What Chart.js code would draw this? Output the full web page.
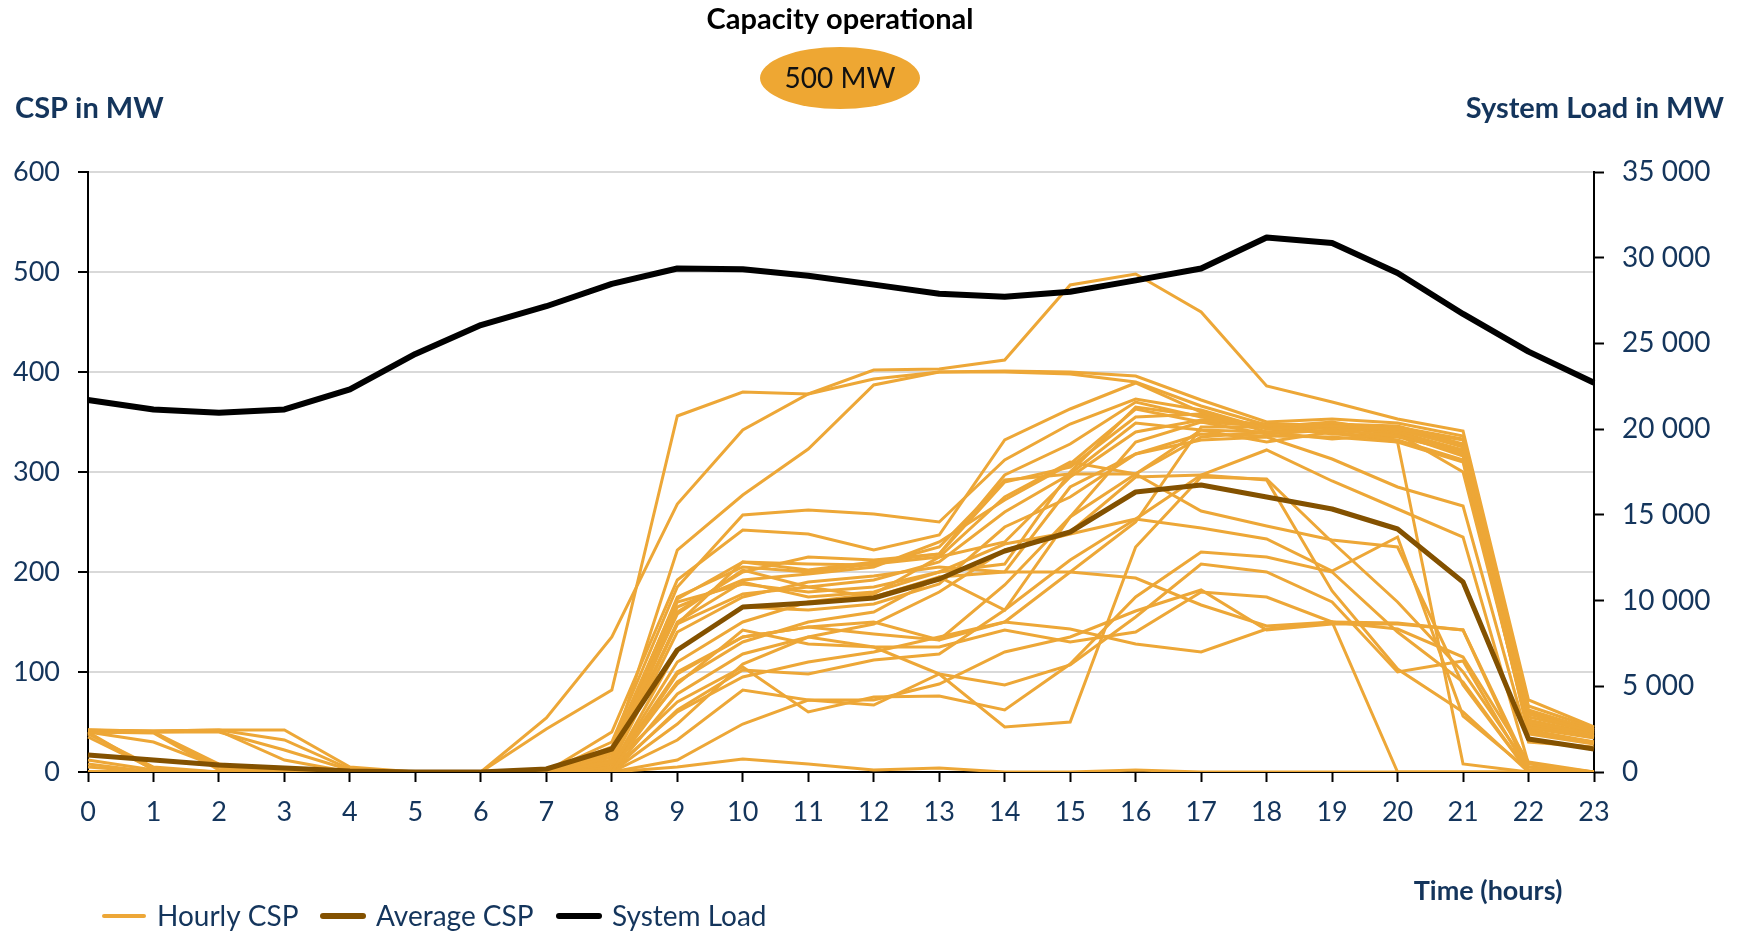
<!DOCTYPE html>
<html>
<head>
<meta charset="utf-8">
<title>CSP output and system load</title>
<script src="https://cdn.jsdelivr.net/npm/chart.js@4.4.1/dist/chart.umd.min.js"></script>
<style>
  html, body { margin: 0; padding: 0; background: #ffffff; overflow: hidden; }
  #wrap { width: 1738px; height: 933px; position: relative; }
</style>
</head>
<body>
<div id="wrap"><canvas id="chart" width="1738" height="933"></canvas></div>
<script>
// Hours of the day (x axis categories)
const hours = ['0','1','2','3','4','5','6','7','8','9','10','11','12','13','14','15','16','17','18','19','20','21','22','23'];

// System load in MW (right axis)
const systemLoad = [21700, 21150, 20960, 21150, 22320, 24390, 26070, 27170, 28470, 29370, 29330, 28950,
                    28430, 27900, 27720, 28010, 28680, 29370, 31180, 30860, 29110, 26720, 24520, 22710];

// Average CSP output in MW (left axis)
const averageCsp = [17, 12, 7, 4, 1, 0, 0, 3, 23, 122, 165, 169, 174, 193, 221, 240, 280, 287, 275, 263, 243, 190, 33, 23];

// Hourly CSP output in MW, one profile per day (left axis)
const dailyCsp = [
  [42,41,42,42,5,0,0,43,82,356,380,378,402,403,412,487,498,460,386,370,353,341,72,45],
  [42,41,42,32,3,0,0,54,135,268,342,378,393,400,401,400,396,372,350,353,349,336,66,44],
  [40,40,40,22,2,0,0,0,20,222,277,323,387,400,400,398,390,366,347,346,343,332,62,42],
  [41,40,41,12,0,0,0,0,30,185,257,262,258,250,312,348,373,362,343,346,342,326,58,40],
  [40,40,8,0,0,0,0,0,40,192,242,238,222,237,332,363,389,360,340,341,345,333,55,40],
  [42,40,5,0,0,0,0,0,25,173,210,202,210,218,297,328,370,355,345,350,340,318,50,38],
  [40,39,2,0,0,0,0,0,15,165,192,198,205,230,272,308,363,350,338,342,336,320,48,36],
  [38,5,0,0,0,0,0,0,10,148,178,185,192,210,260,298,349,342,340,333,338,300,45,35],
  [40,2,0,0,0,0,0,0,0,98,135,145,138,132,187,255,298,342,330,340,332,312,44,34],
  [0,0,0,0,0,0,0,0,20,175,205,200,208,215,230,295,340,352,348,347,344,325,52,38],
  [0,0,0,0,0,0,0,0,12,160,200,215,212,218,290,305,355,358,345,344,340,322,46,35],
  [0,0,0,0,0,0,0,0,8,140,175,190,196,205,200,285,318,338,336,335,330,310,40,30],
  [12,2,0,0,0,0,0,0,18,170,188,180,185,200,208,300,365,356,344,348,346,328,60,42],
  [8,0,0,0,0,0,0,0,5,110,150,170,178,215,275,310,298,335,340,345,338,316,38,28],
  [5,0,0,0,0,0,0,0,3,90,130,150,160,195,162,255,330,350,346,338,335,320,42,30],
  [35,3,0,0,0,0,0,0,5,122,165,162,168,188,245,275,318,332,335,313,285,266,30,25],
  [40,30,5,0,0,0,0,0,0,78,118,135,148,180,222,238,253,297,322,291,263,235,8,0],
  [0,0,0,0,0,0,0,0,10,150,190,175,180,200,228,240,295,297,292,181,103,60,0,0],
  [0,0,0,0,0,0,0,0,15,148,210,208,207,225,292,298,298,261,246,232,225,87,0,0],
  [0,0,0,0,0,0,0,0,20,158,202,185,175,195,200,200,194,167,146,150,149,142,5,0],
  [0,0,0,0,0,0,0,0,0,62,102,98,112,118,162,212,253,244,233,201,235,56,2,0],
  [0,0,0,0,0,0,0,0,0,32,82,72,72,88,120,135,161,182,142,148,148,142,0,0],
  [0,0,0,0,0,0,0,0,10,88,142,128,125,98,87,107,155,208,200,170,100,111,0,0],
  [0,0,0,0,0,0,0,0,5,100,135,145,150,132,150,143,128,120,143,150,143,115,10,0],
  [0,0,0,0,0,0,0,0,0,12,48,72,67,98,45,50,225,295,293,230,170,100,5,0],
  [0,0,0,0,0,0,0,0,8,70,105,60,75,76,62,108,175,220,215,200,140,90,0,0],
  [0,0,0,0,0,0,0,0,0,48,108,135,125,125,142,130,140,180,175,150,0,0,0,0],
  [0,0,0,0,0,0,0,0,2,60,95,110,120,135,150,200,250,345,345,340,330,8,0,0],
  [0,0,0,0,0,0,0,0,0,5,13,8,2,4,0,0,2,0,0,0,0,0,0,0]
];

// Axis ranges and tick steps
const cspAxis = { min: 0, max: 600, step: 100 };
const loadAxis = { min: 0, max: 35000, step: 5000 };

// Text shown around the plot
const headline = 'Capacity operational';
const capacityBadge = '500 MW';
const leftAxisTitle = 'CSP in MW';
const rightAxisTitle = 'System Load in MW';
const xAxisTitle = 'Time (hours)';
const legendNames = ['Hourly CSP', 'Average CSP', 'System Load'];

// Styling
const FONT = 'Lato, "Open Sans", "DejaVu Sans", sans-serif';
const NAVY = '#14355c';
const ORANGE = '#EDA737';
const BROWN = '#835100';
const BLACK = '#000000';

const groupThousands = v => String(v).replace(/\B(?=(\d{3})+(?!\d))/g, ' ');

const datasets = [];
datasets.push({
  label: legendNames[2], data: systemLoad, yAxisID: 'load',
  borderColor: BLACK, borderWidth: 6, pointRadius: 0, tension: 0, order: 0,
  borderJoinStyle: 'round', borderCapStyle: 'butt'
});
datasets.push({
  label: legendNames[1], data: averageCsp, yAxisID: 'csp',
  borderColor: BROWN, borderWidth: 5, pointRadius: 0, tension: 0, order: 1,
  borderJoinStyle: 'round'
});
dailyCsp.forEach((day, i) => {
  datasets.push({
    label: legendNames[0] + ' ' + (i + 1), data: day, yAxisID: 'csp',
    borderColor: ORANGE, borderWidth: 3, pointRadius: 0, tension: 0, order: 2,
    borderJoinStyle: 'miter'
  });
});

// Titles, capacity badge, and legend drawn around the plot area
const decorations = {
  id: 'decorations',
  afterDraw(chart) {
    const ctx = chart.ctx;
    ctx.save();
    ctx.textBaseline = 'middle';

    ctx.fillStyle = '#000';
    ctx.textAlign = 'center';
    ctx.font = 'bold 29px ' + FONT;
    ctx.fillText(headline, 840, 20);

    ctx.beginPath();
    ctx.ellipse(840, 78, 80, 31, 0, 0, Math.PI * 2);
    ctx.fillStyle = '#EEA733';
    ctx.fill();
    ctx.fillStyle = '#111';
    ctx.font = '28px ' + FONT;
    ctx.fillText(capacityBadge, 840, 79);

    ctx.fillStyle = NAVY;
    ctx.font = 'bold 29px ' + FONT;
    ctx.textAlign = 'left';
    ctx.fillText(leftAxisTitle, 15, 109);
    ctx.textAlign = 'right';
    ctx.fillText(rightAxisTitle, 1724, 109);

    ctx.textAlign = 'center';
    ctx.font = 'bold 27px ' + FONT;
    ctx.fillText(xAxisTitle, 1488, 891);

    const items = [
      { x: 102, color: ORANGE, width: 4, text: legendNames[0] },
      { x: 321, color: BROWN, width: 6, text: legendNames[1] },
      { x: 557, color: BLACK, width: 6, text: legendNames[2] }
    ];
    const ly = 916;
    ctx.font = '28px ' + FONT;
    ctx.textAlign = 'left';
    items.forEach(it => {
      ctx.beginPath();
      ctx.lineCap = 'round';
      ctx.strokeStyle = it.color;
      ctx.lineWidth = it.width;
      ctx.moveTo(it.x + 2, ly);
      ctx.lineTo(it.x + 42, ly);
      ctx.stroke();
      ctx.fillStyle = NAVY;
      ctx.fillText(it.text, it.x + 55, ly + 1);
    });
    ctx.restore();
  }
};

new Chart(document.getElementById('chart'), {
  type: 'line',
  data: { labels: hours, datasets },
  options: {
    responsive: false,
    animation: false,
    devicePixelRatio: 1,
    layout: { padding: { top: 172, bottom: 101, left: 0, right: 0 } },
    plugins: { legend: { display: false }, tooltip: { enabled: false }, title: { display: false } },
    elements: { line: { fill: false } },
    scales: {
      x: {
        type: 'category',
        offset: false,
        grid: { drawOnChartArea: false, drawTicks: true, tickLength: 10, tickColor: '#000', tickWidth: 2 },
        border: { color: '#000', width: 2 },
        ticks: { color: NAVY, font: { family: FONT, size: 27 }, padding: 14, maxRotation: 0, autoSkip: false },
        afterFit: s => { s.height = 60; }
      },
      csp: {
        type: 'linear', position: 'left',
        min: cspAxis.min, max: cspAxis.max,
        ticks: { stepSize: cspAxis.step, color: NAVY, font: { family: FONT, size: 27 }, padding: 18 },
        grid: { color: '#d9d9d9', lineWidth: 2, tickColor: '#000', tickLength: 10, tickWidth: 2 },
        border: { color: '#000', width: 2 },
        afterFit: s => { s.width = 88; }
      },
      load: {
        type: 'linear', position: 'right',
        min: loadAxis.min, max: loadAxis.max,
        ticks: { stepSize: loadAxis.step, color: NAVY, font: { family: FONT, size: 28 }, padding: 18,
                 callback: v => groupThousands(v) },
        grid: { drawOnChartArea: false, tickColor: '#000', tickLength: 10, tickWidth: 2 },
        border: { color: '#000', width: 2 },
        afterFit: s => { s.width = 144; }
      }
    }
  },
  plugins: [decorations]
});
</script>
</body>
</html>
